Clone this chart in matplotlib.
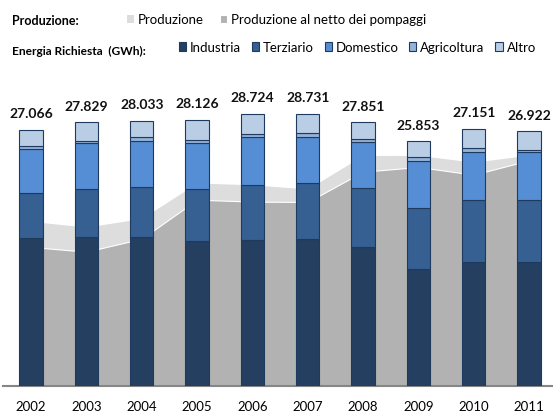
"""
Energia richiesta per settore e produzione, 2002-2011.
"""

import matplotlib.pyplot as plt
import numpy as np

plt.rcParams["font.family"] = ["Lato", "DejaVu Sans"]

years = ["2002", "2003", "2004", "2005", "2006", "2007", "2008", "2009", "2010", "2011"]

# GWh
industria = [15597, 15702, 15734, 15280, 15385, 15491, 14646, 12355, 13062, 13062]
terziario = [4752, 5100, 5312, 5523, 5882, 5945, 6262, 6441, 6579, 6579]
domestico = [4678, 4826, 4857, 4857, 5005, 4826, 4889, 4931, 5037, 5037]
agricoltura = [285, 243, 359, 348, 348, 454, 285, 422, 422, 275]
totale = [27066, 27829, 28033, 28126, 28724, 28731, 27851, 25853, 27151, 26922]
altro = [t - a - b - c - d for t, a, b, c, d in
         zip(totale, industria, terziario, domestico, agricoltura)]

produzione = [17381, 16779, 17687, 21436, 21246, 20803, 24340, 24351, 23633, 24382]
produzione_netto = [14678, 14182, 15554, 19673, 19472, 19430, 22629, 23126, 22313, 23833]

W, H = 553, 414
fig = plt.figure(figsize=(W / 100, H / 100), dpi=100)
ax = fig.add_axes([3.4 / W, 27 / H, 553.3 / W, 378.8 / H])

x = np.arange(len(years))

area_prod = ax.fill_between(x, 0, produzione, color="#dddddd", lw=0, zorder=1,
                            label="Produzione")
area_netto = ax.fill_between(x, 0, produzione_netto, facecolor="#b2b2b2",
                             edgecolor="white", lw=0.8, zorder=2,
                             label="Produzione al netto dei pompaggi")

series = [
    ("Industria", industria, "#243f60"),
    ("Terziario", terziario, "#366092"),
    ("Domestico", domestico, "#558ed5"),
    ("Agricoltura", agricoltura, "#95b3d7"),
    ("Altro", altro, "#b9cde5"),
]
bottom = np.zeros(len(years))
bar_handles = []
for name, vals, col in series:
    b = ax.bar(x, vals, width=0.42, bottom=bottom, color=col,
               edgecolor="#1f3a5f", linewidth=0.8, zorder=3, label=name)
    bar_handles.append(b)
    bottom += np.array(vals)

for i, t in enumerate(totale):
    ax.annotate(f"{t:,}".replace(",", "."), xy=(i, t), xytext=(0, 9),
                textcoords="offset points", ha="center", va="baseline",
                fontsize=10, fontweight="bold", color="#111111")

ax.set_xlim(-0.5, 9.5)
ax.set_ylim(0, 40000)
ax.set_xticks(x)
ax.set_xticklabels(years, fontsize=9.5)
ax.set_yticks([])
ax.tick_params(axis="x", length=0, pad=10)
for s in ["top", "left", "right"]:
    ax.spines[s].set_visible(False)
ax.spines["bottom"].set_color("#868686")
ax.spines["bottom"].set_linewidth(1.5)
ax.set_facecolor("none")

# legend rows
fig.text(11.7 / W, 1 - 25 / H, "Produzione:", fontsize=9, fontweight="bold",
         va="baseline")
fig.text(11.7 / W, 1 - 55 / H, "Energia Richiesta  (GWh):", fontsize=8.6,
         fontweight="bold", va="baseline")

fig.legend(handles=[area_prod, area_netto], loc="center left",
           bbox_to_anchor=(127 / W, 1 - 20.5 / H), ncol=2, frameon=False,
           fontsize=9.5, handlelength=0.55, handleheight=0.6,
           handletextpad=0.3, columnspacing=1.2, borderpad=0,
           borderaxespad=0)
fig.legend(handles=bar_handles, loc="center left",
           bbox_to_anchor=(179 / W, 1 - 48 / H), ncol=5, frameon=False,
           fontsize=9.5, handlelength=0.55, handleheight=0.6,
           handletextpad=0.3, columnspacing=0.8, borderpad=0, borderaxespad=0)

fig.savefig("out.png", dpi=100)
